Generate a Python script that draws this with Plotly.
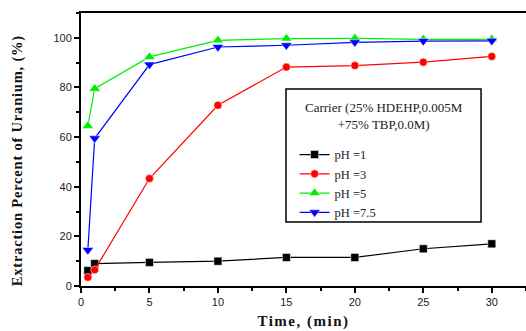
import plotly.graph_objects as go

time = [0.5, 1, 5, 10, 15, 20, 25, 30]
ph1 = [6.2, 9.0, 9.5, 10.0, 11.5, 11.5, 15.0, 17.0]
ph3 = [3.5, 6.5, 43.3, 72.8, 88.2, 88.8, 90.2, 92.5]
ph5 = [64.5, 79.5, 92.3, 99.0, 99.7, 99.8, 99.4, 99.4]
ph75 = [14.5, 59.5, 89.2, 96.3, 97.0, 98.2, 98.7, 98.8]

names = ["pH =1", "pH =3", "pH =5", "pH =7.5"]
colors = ["#000000", "#ff0000", "#00ee00", "#0000ff"]
symbols = ["square", "circle", "triangle-up", "triangle-down"]
sizes = [8, 8, 10, 10]
series = [ph1, ph3, ph5, ph75]

fig = go.Figure()
for n, c, s, sz, ys in zip(names, colors, symbols, sizes, series):
    fig.add_trace(go.Scatter(
        x=time, y=ys, name=n, mode="lines+markers",
        line=dict(color=c, width=1.2),
        marker=dict(symbol=s, size=sz, color=c, line=dict(color="white", width=0.5)),
    ))

fig.update_layout(
    width=526, height=331,
    margin=dict(l=81, r=0, t=13, b=45),
    plot_bgcolor="white", paper_bgcolor="white",
    showlegend=True,
    legend=dict(
        x=0.48, y=0.535, xanchor="left", yanchor="top",
        bgcolor="rgba(0,0,0,0)", borderwidth=0,
        font=dict(family="Liberation Serif", size=12.5, color="#222"),
        itemwidth=30, tracegroupgap=0,
    ),
    xaxis=dict(
        range=[0, 32.5], tickmode="array", tickvals=[0, 5, 10, 15, 20, 25, 30],
        ticks="outside", ticklen=5, tickwidth=1.5, tickcolor="black",
        showline=True, linecolor="black", linewidth=2, mirror=True,
        showgrid=False, zeroline=False,
        tickfont=dict(family="Liberation Sans", size=11, color="#222"),
        minor=dict(ticks="outside", ticklen=3, tickwidth=1.5, tickcolor="black", dtick=2.5, tick0=0),
        title=dict(text="<b><span style='letter-spacing:1.5px'>Time, (min)</span></b>",
                   font=dict(family="Liberation Serif", size=15, color="#111"), standoff=8),
    ),
    yaxis=dict(
        range=[0, 110], tickmode="array", tickvals=[0, 20, 40, 60, 80, 100],
        ticks="outside", ticklen=5, tickwidth=1.5, tickcolor="black",
        showline=True, linecolor="black", linewidth=2, mirror=False,
        showgrid=False, zeroline=False,
        tickfont=dict(family="Liberation Sans", size=11, color="#222"),
        minor=dict(ticks="outside", ticklen=3, tickwidth=1.5, tickcolor="black", dtick=10, tick0=0),
    ),
)

fig.add_shape(type="rect", xref="paper", yref="paper",
              x0=0.4607, x1=0.899, y0=0.234, y1=0.7216,
              line=dict(color="black", width=1.5), fillcolor="rgba(0,0,0,0)")
fig.add_annotation(xref="paper", yref="paper", x=0.68, y=0.69, xanchor="center", yanchor="top",
                   text="Carrier (25% HDEHP,0.005M<br>+75% TBP,0.0M)", showarrow=False,
                   font=dict(family="Liberation Serif", size=13, color="#222"), align="center")
fig.add_annotation(xref="paper", yref="paper", x=-0.142, y=0.46, xanchor="center", yanchor="middle",
                   text="<b><span style='letter-spacing:0.8px'>Extraction Percent of Uranium, (%)</span></b>",
                   textangle=-90, showarrow=False,
                   font=dict(family="Liberation Serif", size=14.5, color="#111"))

fig.write_html("out.html")
